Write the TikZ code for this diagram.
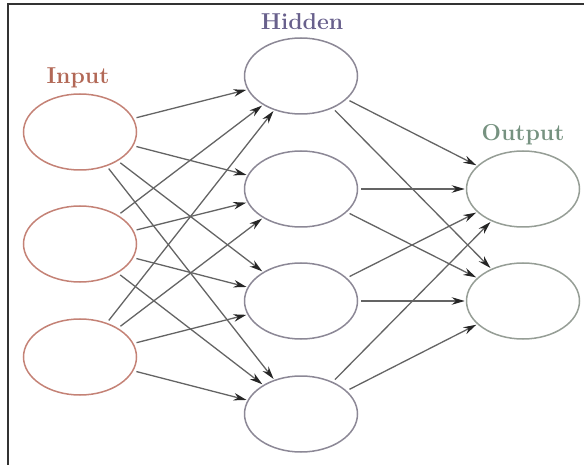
\documentclass[tikz,border=0pt]{standalone}
\usetikzlibrary{shapes.geometric,arrows.meta}
\definecolor{incol}{RGB}{196,130,118}
\definecolor{hidcol}{RGB}{140,136,150}
\definecolor{outcol}{RGB}{150,158,150}
\definecolor{inlab}{RGB}{178,104,86}
\definecolor{hidlab}{RGB}{104,96,140}
\definecolor{outlab}{RGB}{118,146,128}
\definecolor{edgecol}{RGB}{100,100,100}
\begin{document}
\begin{tikzpicture}[x=1pt,y=-1pt,
  neuron/.style={ellipse,draw,line width=1.5pt,minimum width=113pt,minimum height=76pt,inner sep=0pt},
  inneuron/.style={neuron,draw=incol},
  hidneuron/.style={neuron,draw=hidcol},
  outneuron/.style={neuron,draw=outcol},
  lab/.style={font=\fontsize{23}{26}\selectfont\bfseries},
  conn/.style={draw=edgecol,line width=1.3pt,shorten <=3pt,shorten >=1pt,
    -{Stealth[length=13pt,width=7.5pt,color=black!85]}}]
\useasboundingbox (0,0) rectangle (584,465);
\draw[line width=2.8pt,color=black!80] (584,4) -- (8,4) -- (8,465);
% nodes
\node[inneuron] (i1) at (80,132) {};
\node[inneuron] (i2) at (80,244) {};
\node[inneuron] (i3) at (80,357) {};
\node[hidneuron] (h1) at (301,76) {};
\node[hidneuron] (h2) at (301,189) {};
\node[hidneuron] (h3) at (301,301) {};
\node[hidneuron] (h4) at (301,414) {};
\node[outneuron] (o1) at (523,189) {};
\node[outneuron] (o2) at (523,301) {};
% labels
\node[lab,text=inlab] (li) at (78,78) {Input};
\node[lab,text=hidlab] (lh) at (302,22) {Hidden};
\node[lab,text=outlab] (lo) at (523,135) {Output};
% connections
\foreach \a in {i1,i2,i3}
  \foreach \b in {h1,h2,h3,h4}
    \draw[conn] (\a) -- (\b);
\foreach \a in {h1,h2,h3,h4}
  \foreach \b in {o1,o2}
    \draw[conn] (\a) -- (\b);
\end{tikzpicture}
\end{document}
